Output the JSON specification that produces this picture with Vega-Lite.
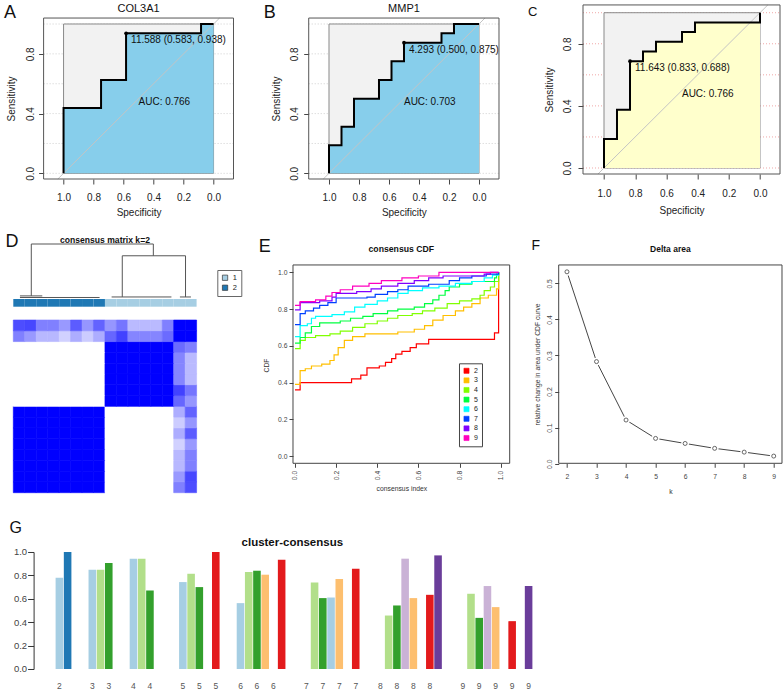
{
  "$schema": "https://vega.github.io/schema/vega-lite/v6.json",
  "background": "white",
  "autosize": {"type": "pad"},
  "padding": {"left": 3.3, "top": 0, "right": 0, "bottom": 0},
  "config": {
    "font": "Liberation Sans",
    "view": {"stroke": null},
    "axis": {"grid": false, "domain": false, "labelFont": "Liberation Sans", "titleFont": "Liberation Sans", "titleFontWeight": "normal", "tickColor": "#444", "labelColor": "#222", "titleColor": "#222", "labelFlush": false, "labelOverlap": false},
    "title": {"font": "Liberation Sans", "fontWeight": "normal", "color": "#111", "offset": 0, "baseline": "alphabetic", "frame": "group"},
    "legend": {"labelFont": "Liberation Sans"}
  },
  "datasets": {
    "one": [{}],
    "ticks": [{"t": 0}, {"t": 0.2}, {"t": 0.4}, {"t": 0.6}, {"t": 0.8}, {"t": 1}],
    "rocA": [{"i": 1, "spec": 0, "sens": 1}, {"i": 2, "spec": 0.0833, "sens": 1}, {"i": 3, "spec": 0.0833, "sens": 0.9375}, {"i": 4, "spec": 0.5833, "sens": 0.9375}, {"i": 5, "spec": 0.5833, "sens": 0.625}, {"i": 6, "spec": 0.75, "sens": 0.625}, {"i": 7, "spec": 0.75, "sens": 0.4375}, {"i": 8, "spec": 1, "sens": 0.4375}, {"i": 9, "spec": 1, "sens": 0}],
    "rocB": [{"i": 1, "spec": 0, "sens": 1}, {"i": 2, "spec": 0.1667, "sens": 1}, {"i": 3, "spec": 0.1667, "sens": 0.9375}, {"i": 4, "spec": 0.25, "sens": 0.9375}, {"i": 5, "spec": 0.25, "sens": 0.875}, {"i": 6, "spec": 0.5, "sens": 0.875}, {"i": 7, "spec": 0.5, "sens": 0.75}, {"i": 8, "spec": 0.5833, "sens": 0.75}, {"i": 9, "spec": 0.5833, "sens": 0.625}, {"i": 10, "spec": 0.6667, "sens": 0.625}, {"i": 11, "spec": 0.6667, "sens": 0.5}, {"i": 12, "spec": 0.8333, "sens": 0.5}, {"i": 13, "spec": 0.8333, "sens": 0.3125}, {"i": 14, "spec": 0.9167, "sens": 0.3125}, {"i": 15, "spec": 0.9167, "sens": 0.1875}, {"i": 16, "spec": 1, "sens": 0.1875}, {"i": 17, "spec": 1, "sens": 0}],
    "rocC": [{"i": 1, "spec": 0, "sens": 1}, {"i": 2, "spec": 0, "sens": 0.9375}, {"i": 3, "spec": 0.4167, "sens": 0.9375}, {"i": 4, "spec": 0.4167, "sens": 0.875}, {"i": 5, "spec": 0.5, "sens": 0.875}, {"i": 6, "spec": 0.5, "sens": 0.8125}, {"i": 7, "spec": 0.6667, "sens": 0.8125}, {"i": 8, "spec": 0.6667, "sens": 0.75}, {"i": 9, "spec": 0.75, "sens": 0.75}, {"i": 10, "spec": 0.75, "sens": 0.6875}, {"i": 11, "spec": 0.8333, "sens": 0.6875}, {"i": 12, "spec": 0.8333, "sens": 0.375}, {"i": 13, "spec": 0.9167, "sens": 0.375}, {"i": 14, "spec": 0.9167, "sens": 0.1875}, {"i": 15, "spec": 1, "sens": 0.1875}, {"i": 16, "spec": 1, "sens": 0}],
    "cutA": [{"thr": 11.588, "spec": 0.583, "sens": 0.938}],
    "cutB": [{"thr": 4.293, "spec": 0.5, "sens": 0.875}],
    "cutC": [{"thr": 11.643, "spec": 0.833, "sens": 0.688}],
    "dendro": [
      {"x": 2.07, "x2": 12.72, "y": 1, "y2": 1},
      {"x": 2.07, "x2": 2.07, "y": 1, "y2": 0.03},
      {"x": 12.72, "x2": 12.72, "y": 1, "y2": 0.78},
      {"x": 10.01, "x2": 15.53, "y": 0.78, "y2": 0.78},
      {"x": 10.01, "x2": 10.01, "y": 0.78, "y2": 0.01},
      {"x": 15.53, "x2": 15.53, "y": 0.78, "y2": 0.01},
      {"x": 1.08, "x2": 3.03, "y": 0.03, "y2": 0.03},
      {"x": 1.08, "x2": 8.03, "y": 0.0, "y2": 0.0},
      {"x": 9.08, "x2": 14.3, "y": 0.01, "y2": 0.01},
      {"x": 15.04, "x2": 16.0, "y": 0.01, "y2": 0.01}
    ],
    "clusters": [
      {"c": 1, "cl": "2"}, {"c": 2, "cl": "2"}, {"c": 3, "cl": "2"}, {"c": 4, "cl": "2"}, {"c": 5, "cl": "2"}, {"c": 6, "cl": "2"}, {"c": 7, "cl": "2"}, {"c": 8, "cl": "2"},
      {"c": 9, "cl": "1"}, {"c": 10, "cl": "1"}, {"c": 11, "cl": "1"}, {"c": 12, "cl": "1"}, {"c": 13, "cl": "1"}, {"c": 14, "cl": "1"}, {"c": 15, "cl": "1"}, {"c": 16, "cl": "1"}
    ],
    "cm": [
      {"r":1,"c":1,"v":1},{"r":1,"c":2,"v":1},{"r":1,"c":3,"v":1},{"r":1,"c":4,"v":1},{"r":1,"c":5,"v":1},{"r":1,"c":6,"v":1},{"r":1,"c":7,"v":1},{"r":1,"c":8,"v":1},{"r":1,"c":9,"v":0},{"r":1,"c":10,"v":0},{"r":1,"c":11,"v":0},{"r":1,"c":12,"v":0},{"r":1,"c":13,"v":0},{"r":1,"c":14,"v":0},{"r":1,"c":15,"v":0.5},{"r":1,"c":16,"v":0.7},
      {"r":2,"c":1,"v":1},{"r":2,"c":2,"v":1},{"r":2,"c":3,"v":1},{"r":2,"c":4,"v":1},{"r":2,"c":5,"v":1},{"r":2,"c":6,"v":1},{"r":2,"c":7,"v":1},{"r":2,"c":8,"v":1},{"r":2,"c":9,"v":0},{"r":2,"c":10,"v":0},{"r":2,"c":11,"v":0},{"r":2,"c":12,"v":0},{"r":2,"c":13,"v":0},{"r":2,"c":14,"v":0},{"r":2,"c":15,"v":0.4},{"r":2,"c":16,"v":0.72},
      {"r":3,"c":1,"v":1},{"r":3,"c":2,"v":1},{"r":3,"c":3,"v":1},{"r":3,"c":4,"v":1},{"r":3,"c":5,"v":1},{"r":3,"c":6,"v":1},{"r":3,"c":7,"v":1},{"r":3,"c":8,"v":1},{"r":3,"c":9,"v":0},{"r":3,"c":10,"v":0},{"r":3,"c":11,"v":0},{"r":3,"c":12,"v":0},{"r":3,"c":13,"v":0},{"r":3,"c":14,"v":0},{"r":3,"c":15,"v":0.28},{"r":3,"c":16,"v":0.5},
      {"r":4,"c":1,"v":1},{"r":4,"c":2,"v":1},{"r":4,"c":3,"v":1},{"r":4,"c":4,"v":1},{"r":4,"c":5,"v":1},{"r":4,"c":6,"v":1},{"r":4,"c":7,"v":1},{"r":4,"c":8,"v":1},{"r":4,"c":9,"v":0},{"r":4,"c":10,"v":0},{"r":4,"c":11,"v":0},{"r":4,"c":12,"v":0},{"r":4,"c":13,"v":0},{"r":4,"c":14,"v":0},{"r":4,"c":15,"v":0.28},{"r":4,"c":16,"v":0.5},
      {"r":5,"c":1,"v":1},{"r":5,"c":2,"v":1},{"r":5,"c":3,"v":1},{"r":5,"c":4,"v":1},{"r":5,"c":5,"v":1},{"r":5,"c":6,"v":1},{"r":5,"c":7,"v":1},{"r":5,"c":8,"v":1},{"r":5,"c":9,"v":0},{"r":5,"c":10,"v":0},{"r":5,"c":11,"v":0},{"r":5,"c":12,"v":0},{"r":5,"c":13,"v":0},{"r":5,"c":14,"v":0},{"r":5,"c":15,"v":0.18},{"r":5,"c":16,"v":0.4},
      {"r":6,"c":1,"v":1},{"r":6,"c":2,"v":1},{"r":6,"c":3,"v":1},{"r":6,"c":4,"v":1},{"r":6,"c":5,"v":1},{"r":6,"c":6,"v":1},{"r":6,"c":7,"v":1},{"r":6,"c":8,"v":1},{"r":6,"c":9,"v":0},{"r":6,"c":10,"v":0},{"r":6,"c":11,"v":0},{"r":6,"c":12,"v":0},{"r":6,"c":13,"v":0},{"r":6,"c":14,"v":0},{"r":6,"c":15,"v":0.32},{"r":6,"c":16,"v":0.64},
      {"r":7,"c":1,"v":1},{"r":7,"c":2,"v":1},{"r":7,"c":3,"v":1},{"r":7,"c":4,"v":1},{"r":7,"c":5,"v":1},{"r":7,"c":6,"v":1},{"r":7,"c":7,"v":1},{"r":7,"c":8,"v":1},{"r":7,"c":9,"v":0},{"r":7,"c":10,"v":0},{"r":7,"c":11,"v":0},{"r":7,"c":12,"v":0},{"r":7,"c":13,"v":0},{"r":7,"c":14,"v":0},{"r":7,"c":15,"v":0.2},{"r":7,"c":16,"v":0.41},
      {"r":8,"c":1,"v":1},{"r":8,"c":2,"v":1},{"r":8,"c":3,"v":1},{"r":8,"c":4,"v":1},{"r":8,"c":5,"v":1},{"r":8,"c":6,"v":1},{"r":8,"c":7,"v":1},{"r":8,"c":8,"v":1},{"r":8,"c":9,"v":0},{"r":8,"c":10,"v":0},{"r":8,"c":11,"v":0},{"r":8,"c":12,"v":0},{"r":8,"c":13,"v":0},{"r":8,"c":14,"v":0},{"r":8,"c":15,"v":0.32},{"r":8,"c":16,"v":0.61},
      {"r":9,"c":1,"v":0},{"r":9,"c":2,"v":0},{"r":9,"c":3,"v":0},{"r":9,"c":4,"v":0},{"r":9,"c":5,"v":0},{"r":9,"c":6,"v":0},{"r":9,"c":7,"v":0},{"r":9,"c":8,"v":0},{"r":9,"c":9,"v":1},{"r":9,"c":10,"v":1},{"r":9,"c":11,"v":1},{"r":9,"c":12,"v":1},{"r":9,"c":13,"v":1},{"r":9,"c":14,"v":1},{"r":9,"c":15,"v":0.6},{"r":9,"c":16,"v":0.41},
      {"r":10,"c":1,"v":0},{"r":10,"c":2,"v":0},{"r":10,"c":3,"v":0},{"r":10,"c":4,"v":0},{"r":10,"c":5,"v":0},{"r":10,"c":6,"v":0},{"r":10,"c":7,"v":0},{"r":10,"c":8,"v":0},{"r":10,"c":9,"v":1},{"r":10,"c":10,"v":1},{"r":10,"c":11,"v":1},{"r":10,"c":12,"v":1},{"r":10,"c":13,"v":1},{"r":10,"c":14,"v":1},{"r":10,"c":15,"v":0.74},{"r":10,"c":16,"v":0.54},
      {"r":11,"c":1,"v":0},{"r":11,"c":2,"v":0},{"r":11,"c":3,"v":0},{"r":11,"c":4,"v":0},{"r":11,"c":5,"v":0},{"r":11,"c":6,"v":0},{"r":11,"c":7,"v":0},{"r":11,"c":8,"v":0},{"r":11,"c":9,"v":1},{"r":11,"c":10,"v":1},{"r":11,"c":11,"v":1},{"r":11,"c":12,"v":1},{"r":11,"c":13,"v":1},{"r":11,"c":14,"v":1},{"r":11,"c":15,"v":0.48},{"r":11,"c":16,"v":0.27},
      {"r":12,"c":1,"v":0},{"r":12,"c":2,"v":0},{"r":12,"c":3,"v":0},{"r":12,"c":4,"v":0},{"r":12,"c":5,"v":0},{"r":12,"c":6,"v":0},{"r":12,"c":7,"v":0},{"r":12,"c":8,"v":0},{"r":12,"c":9,"v":1},{"r":12,"c":10,"v":1},{"r":12,"c":11,"v":1},{"r":12,"c":12,"v":1},{"r":12,"c":13,"v":1},{"r":12,"c":14,"v":1},{"r":12,"c":15,"v":0.48},{"r":12,"c":16,"v":0.27},
      {"r":13,"c":1,"v":0},{"r":13,"c":2,"v":0},{"r":13,"c":3,"v":0},{"r":13,"c":4,"v":0},{"r":13,"c":5,"v":0},{"r":13,"c":6,"v":0},{"r":13,"c":7,"v":0},{"r":13,"c":8,"v":0},{"r":13,"c":9,"v":1},{"r":13,"c":10,"v":1},{"r":13,"c":11,"v":1},{"r":13,"c":12,"v":1},{"r":13,"c":13,"v":1},{"r":13,"c":14,"v":1},{"r":13,"c":15,"v":0.48},{"r":13,"c":16,"v":0.27},
      {"r":14,"c":1,"v":0},{"r":14,"c":2,"v":0},{"r":14,"c":3,"v":0},{"r":14,"c":4,"v":0},{"r":14,"c":5,"v":0},{"r":14,"c":6,"v":0},{"r":14,"c":7,"v":0},{"r":14,"c":8,"v":0},{"r":14,"c":9,"v":1},{"r":14,"c":10,"v":1},{"r":14,"c":11,"v":1},{"r":14,"c":12,"v":1},{"r":14,"c":13,"v":1},{"r":14,"c":14,"v":1},{"r":14,"c":15,"v":0.58},{"r":14,"c":16,"v":0.5},
      {"r":15,"c":1,"v":0.5},{"r":15,"c":2,"v":0.4},{"r":15,"c":3,"v":0.28},{"r":15,"c":4,"v":0.28},{"r":15,"c":5,"v":0.18},{"r":15,"c":6,"v":0.32},{"r":15,"c":7,"v":0.2},{"r":15,"c":8,"v":0.32},{"r":15,"c":9,"v":0.6},{"r":15,"c":10,"v":0.74},{"r":15,"c":11,"v":0.48},{"r":15,"c":12,"v":0.48},{"r":15,"c":13,"v":0.48},{"r":15,"c":14,"v":0.58},{"r":15,"c":15,"v":1},{"r":15,"c":16,"v":1},
      {"r":16,"c":1,"v":0.7},{"r":16,"c":2,"v":0.72},{"r":16,"c":3,"v":0.5},{"r":16,"c":4,"v":0.5},{"r":16,"c":5,"v":0.4},{"r":16,"c":6,"v":0.64},{"r":16,"c":7,"v":0.41},{"r":16,"c":8,"v":0.61},{"r":16,"c":9,"v":0.41},{"r":16,"c":10,"v":0.54},{"r":16,"c":11,"v":0.27},{"r":16,"c":12,"v":0.27},{"r":16,"c":13,"v":0.27},{"r":16,"c":14,"v":0.5},{"r":16,"c":15,"v":1},{"r":16,"c":16,"v":1}
    ],
    "cdf": [
      {"k":"2","x":0,"y":0.36},{"k":"2","x":0.025,"y":0.40},{"k":"2","x":0.275,"y":0.42},{"k":"2","x":0.32,"y":0.44},{"k":"2","x":0.35,"y":0.48},{"k":"2","x":0.41,"y":0.49},{"k":"2","x":0.44,"y":0.51},{"k":"2","x":0.47,"y":0.53},{"k":"2","x":0.49,"y":0.555},{"k":"2","x":0.52,"y":0.57},{"k":"2","x":0.56,"y":0.59},{"k":"2","x":0.59,"y":0.61},{"k":"2","x":0.65,"y":0.635},{"k":"2","x":0.97,"y":0.67},{"k":"2","x":0.99,"y":1},
      {"k":"3","x":0,"y":0.39},{"k":"3","x":0.025,"y":0.465},{"k":"3","x":0.05,"y":0.475},{"k":"3","x":0.08,"y":0.49},{"k":"3","x":0.13,"y":0.5},{"k":"3","x":0.17,"y":0.52},{"k":"3","x":0.19,"y":0.55},{"k":"3","x":0.21,"y":0.59},{"k":"3","x":0.24,"y":0.63},{"k":"3","x":0.28,"y":0.65},{"k":"3","x":0.34,"y":0.665},{"k":"3","x":0.5,"y":0.675},{"k":"3","x":0.58,"y":0.69},{"k":"3","x":0.63,"y":0.71},{"k":"3","x":0.67,"y":0.74},{"k":"3","x":0.72,"y":0.765},{"k":"3","x":0.78,"y":0.79},{"k":"3","x":0.82,"y":0.81},{"k":"3","x":0.86,"y":0.83},{"k":"3","x":0.9,"y":0.86},{"k":"3","x":0.94,"y":0.875},{"k":"3","x":0.98,"y":0.91},{"k":"3","x":0.99,"y":1},
      {"k":"4","x":0,"y":0.585},{"k":"4","x":0.025,"y":0.63},{"k":"4","x":0.05,"y":0.645},{"k":"4","x":0.1,"y":0.655},{"k":"4","x":0.17,"y":0.665},{"k":"4","x":0.22,"y":0.68},{"k":"4","x":0.28,"y":0.7},{"k":"4","x":0.34,"y":0.72},{"k":"4","x":0.4,"y":0.735},{"k":"4","x":0.45,"y":0.75},{"k":"4","x":0.5,"y":0.765},{"k":"4","x":0.57,"y":0.775},{"k":"4","x":0.62,"y":0.79},{"k":"4","x":0.68,"y":0.805},{"k":"4","x":0.74,"y":0.83},{"k":"4","x":0.8,"y":0.845},{"k":"4","x":0.86,"y":0.855},{"k":"4","x":0.9,"y":0.875},{"k":"4","x":0.92,"y":0.9},{"k":"4","x":0.95,"y":0.92},{"k":"4","x":0.97,"y":0.95},{"k":"4","x":0.99,"y":1},
      {"k":"5","x":0,"y":0.615},{"k":"5","x":0.025,"y":0.645},{"k":"5","x":0.05,"y":0.67},{"k":"5","x":0.08,"y":0.705},{"k":"5","x":0.12,"y":0.725},{"k":"5","x":0.22,"y":0.735},{"k":"5","x":0.27,"y":0.75},{"k":"5","x":0.33,"y":0.76},{"k":"5","x":0.38,"y":0.775},{"k":"5","x":0.45,"y":0.79},{"k":"5","x":0.5,"y":0.8},{"k":"5","x":0.58,"y":0.81},{"k":"5","x":0.63,"y":0.83},{"k":"5","x":0.67,"y":0.85},{"k":"5","x":0.7,"y":0.875},{"k":"5","x":0.73,"y":0.9},{"k":"5","x":0.75,"y":0.92},{"k":"5","x":0.8,"y":0.935},{"k":"5","x":0.86,"y":0.95},{"k":"5","x":0.97,"y":0.97},{"k":"5","x":0.98,"y":0.99},{"k":"5","x":0.99,"y":1},
      {"k":"6","x":0,"y":0.65},{"k":"6","x":0.025,"y":0.71},{"k":"6","x":0.06,"y":0.72},{"k":"6","x":0.08,"y":0.75},{"k":"6","x":0.1,"y":0.76},{"k":"6","x":0.18,"y":0.77},{"k":"6","x":0.24,"y":0.785},{"k":"6","x":0.29,"y":0.81},{"k":"6","x":0.34,"y":0.825},{"k":"6","x":0.4,"y":0.845},{"k":"6","x":0.45,"y":0.86},{"k":"6","x":0.5,"y":0.885},{"k":"6","x":0.55,"y":0.9},{"k":"6","x":0.62,"y":0.915},{"k":"6","x":0.7,"y":0.925},{"k":"6","x":0.78,"y":0.94},{"k":"6","x":0.86,"y":0.95},{"k":"6","x":0.92,"y":0.97},{"k":"6","x":0.96,"y":0.985},{"k":"6","x":0.99,"y":1},
      {"k":"7","x":0,"y":0.715},{"k":"7","x":0.025,"y":0.775},{"k":"7","x":0.05,"y":0.79},{"k":"7","x":0.09,"y":0.805},{"k":"7","x":0.12,"y":0.82},{"k":"7","x":0.16,"y":0.835},{"k":"7","x":0.2,"y":0.86},{"k":"7","x":0.35,"y":0.865},{"k":"7","x":0.39,"y":0.88},{"k":"7","x":0.45,"y":0.895},{"k":"7","x":0.5,"y":0.905},{"k":"7","x":0.55,"y":0.925},{"k":"7","x":0.65,"y":0.935},{"k":"7","x":0.75,"y":0.955},{"k":"7","x":0.8,"y":0.97},{"k":"7","x":0.86,"y":0.98},{"k":"7","x":0.93,"y":0.99},{"k":"7","x":0.99,"y":1},
      {"k":"8","x":0,"y":0.795},{"k":"8","x":0.025,"y":0.835},{"k":"8","x":0.12,"y":0.845},{"k":"8","x":0.18,"y":0.865},{"k":"8","x":0.2,"y":0.885},{"k":"8","x":0.3,"y":0.895},{"k":"8","x":0.37,"y":0.91},{"k":"8","x":0.42,"y":0.925},{"k":"8","x":0.5,"y":0.94},{"k":"8","x":0.58,"y":0.955},{"k":"8","x":0.65,"y":0.97},{"k":"8","x":0.72,"y":0.98},{"k":"8","x":0.92,"y":0.99},{"k":"8","x":0.95,"y":1},{"k":"8","x":0.99,"y":1},
      {"k":"9","x":0,"y":0.82},{"k":"9","x":0.025,"y":0.84},{"k":"9","x":0.1,"y":0.85},{"k":"9","x":0.15,"y":0.87},{"k":"9","x":0.18,"y":0.89},{"k":"9","x":0.22,"y":0.905},{"k":"9","x":0.28,"y":0.925},{"k":"9","x":0.36,"y":0.94},{"k":"9","x":0.42,"y":0.955},{"k":"9","x":0.52,"y":0.97},{"k":"9","x":0.6,"y":0.98},{"k":"9","x":0.7,"y":1},{"k":"9","x":0.99,"y":1}
    ],
    "delta": [{"k": 2, "d": 0.532}, {"k": 3, "d": 0.283}, {"k": 4, "d": 0.121}, {"k": 5, "d": 0.070}, {"k": 6, "d": 0.056}, {"k": 7, "d": 0.0425}, {"k": 8, "d": 0.032}, {"k": 9, "d": 0.021}],
    "cc": [
      {"id": "2-1", "t": "t1", "v": 0.78}, {"id": "2-2", "t": "t2", "v": 1.0},
      {"id": "3-1", "t": "t1", "v": 0.849}, {"id": "3-2", "t": "t3", "v": 0.849}, {"id": "3-3", "t": "t4", "v": 0.906},
      {"id": "4-1", "t": "t1", "v": 0.943}, {"id": "4-2", "t": "t3", "v": 0.943}, {"id": "4-3", "t": "t4", "v": 0.671},
      {"id": "5-1", "t": "t1", "v": 0.743}, {"id": "5-2", "t": "t3", "v": 0.814}, {"id": "5-3", "t": "t4", "v": 0.70}, {"id": "5-5", "t": "t6", "v": 1.0},
      {"id": "6-1", "t": "t1", "v": 0.563}, {"id": "6-2", "t": "t3", "v": 0.829}, {"id": "6-3", "t": "t4", "v": 0.84}, {"id": "6-4", "t": "t7", "v": 0.806}, {"id": "6-6", "t": "t6", "v": 0.934},
      {"id": "7-2", "t": "t3", "v": 0.74}, {"id": "7-3", "t": "t4", "v": 0.606}, {"id": "7-4", "t": "t1", "v": 0.611}, {"id": "7-5", "t": "t7", "v": 0.769}, {"id": "7-7", "t": "t6", "v": 0.857},
      {"id": "8-2", "t": "t3", "v": 0.457}, {"id": "8-3", "t": "t4", "v": 0.543}, {"id": "8-4", "t": "t9", "v": 0.943}, {"id": "8-5", "t": "t7", "v": 0.606}, {"id": "8-7", "t": "t6", "v": 0.634}, {"id": "8-8", "t": "t10", "v": 0.971},
      {"id": "9-2", "t": "t3", "v": 0.643}, {"id": "9-3", "t": "t4", "v": 0.437}, {"id": "9-4", "t": "t9", "v": 0.709}, {"id": "9-5", "t": "t7", "v": 0.529}, {"id": "9-7", "t": "t6", "v": 0.409}, {"id": "9-9", "t": "t10", "v": 0.709}
    ]
  },
  "bounds": "full",
  "spacing": 24,
  "resolve": {"scale": {"color": "independent", "fill": "independent", "stroke": "independent"}},
  "vconcat": [
    {
      "columns": 3,
      "bounds": "flush",
      "align": "each",
      "spacing": {"row": 60, "column": 48.7},
      "resolve": {"scale": {"color": "independent", "fill": "independent", "stroke": "independent"}},
      "concat": [
        {
          "width": 230.9, "height": 179,
          "layer": [
            {"data": {"name": "ticks"}, "mark": {"type": "rule", "color": "#cfcfcf", "strokeDash": [1, 2]},
             "encoding": {
               "y": {"field": "t", "type": "quantitative", "scale": {"domain": [-0.038, 1.1608], "nice": false, "zero": false},
                     "axis": {"title": "Sensitivity", "titleY": 98.5, "values": [0, 0.2, 0.4, 0.6, 0.8, 1], "format": ".1f", "offset": -30.3, "tickSize": 5, "labelAngle": -90, "labelAlign": "center", "labelBaseline": "bottom", "labelPadding": 3, "labelFontSize": 10, "titleFontSize": 10, "titlePadding": 9, "labelOverlap": false}},
               "x": {"datum": 1.133, "type": "quantitative", "scale": {"domain": [1.335, -0.2043], "nice": false, "zero": false},
                     "axis": {"title": "Specificity", "titleX": 125.3, "values": [0, 0.2, 0.4, 0.6, 0.8, 1], "format": ".1f", "tickSize": 5, "labelPadding": 8, "labelFontSize": 10, "titleFontSize": 10, "titlePadding": 5, "labelOverlap": false}},
               "x2": {"datum": -0.133}}},
            {"data": {"name": "one"}, "mark": {"type": "rect", "fill": "#f2f2f2", "stroke": "#8a8a8a", "strokeWidth": 1},
             "encoding": {"x": {"datum": 1, "type": "quantitative", "scale": {"domain": [1.335, -0.2043], "nice": false, "zero": false}}, "x2": {"datum": 0},
                          "y": {"datum": 0, "type": "quantitative", "scale": {"domain": [-0.038, 1.1608], "nice": false, "zero": false}}, "y2": {"datum": 1}}},
            {"data": {"name": "rocA"}, "transform": [{"aggregate": [{"op": "min", "field": "sens", "as": "lo"}], "groupby": ["spec"]}],
             "mark": {"type": "area", "color": "#87CEEB", "opacity": 1, "interpolate": "step-before"},
             "encoding": {"x": {"field": "spec", "type": "quantitative", "scale": {"domain": [1.335, -0.2043], "nice": false, "zero": false}},
                          "y": {"field": "lo", "type": "quantitative", "scale": {"domain": [-0.038, 1.1608], "nice": false, "zero": false}}, "y2": {"datum": 0}}},
            {"data": {"name": "one"}, "mark": {"type": "rule", "color": "#c4c4c4", "strokeWidth": 1},
             "encoding": {"x": {"datum": 1.038, "type": "quantitative", "scale": {"domain": [1.335, -0.2043], "nice": false, "zero": false}}, "x2": {"datum": -0.04},
                          "y": {"datum": -0.038, "type": "quantitative", "scale": {"domain": [-0.038, 1.1608], "nice": false, "zero": false}}, "y2": {"datum": 1.04}}},
            {"data": {"name": "rocA"}, "mark": {"type": "line", "color": "#000000", "strokeWidth": 2},
             "encoding": {"x": {"field": "spec", "type": "quantitative", "scale": {"domain": [1.335, -0.2043], "nice": false, "zero": false}},
                          "y": {"field": "sens", "type": "quantitative", "scale": {"domain": [-0.038, 1.1608], "nice": false, "zero": false}},
                          "order": {"field": "i", "type": "quantitative"}}},
            {"data": {"name": "cutA"}, "mark": {"type": "point", "filled": true, "color": "#000000", "size": 14, "opacity": 1},
             "encoding": {"x": {"field": "spec", "type": "quantitative", "scale": {"domain": [1.335, -0.2043], "nice": false, "zero": false}},
                          "y": {"field": "sens", "type": "quantitative", "scale": {"domain": [-0.038, 1.1608], "nice": false, "zero": false}}}},
            {"data": {"name": "cutA"}, "transform": [{"calculate": "format(datum.thr, '.3f') + ' (' + format(datum.spec, '.3f') + ', ' + format(datum.sens, '.3f') + ')'", "as": "lab"}],
             "mark": {"type": "text", "align": "left", "baseline": "middle", "dx": 5, "dy": 7, "fontSize": 10, "color": "#111111"},
             "encoding": {"x": {"field": "spec", "type": "quantitative", "scale": {"domain": [1.335, -0.2043], "nice": false, "zero": false}},
                          "y": {"field": "sens", "type": "quantitative", "scale": {"domain": [-0.038, 1.1608], "nice": false, "zero": false}}, "text": {"field": "lab"}}},
            {"data": {"name": "one"}, "mark": {"type": "text", "align": "left", "baseline": "middle", "fontSize": 10, "color": "#111111"},
             "encoding": {"x": {"datum": 0.5, "type": "quantitative", "scale": {"domain": [1.335, -0.2043], "nice": false, "zero": false}},
                          "y": {"datum": 0.475, "type": "quantitative", "scale": {"domain": [-0.038, 1.1608], "nice": false, "zero": false}}, "text": {"value": "AUC: 0.766"}}},
            {"data": {"name": "one"}, "mark": {"type": "text", "align": "center", "baseline": "middle", "fontSize": 11, "color": "#111111"},
             "encoding": {"x": {"datum": 0.5, "type": "quantitative", "scale": {"domain": [1.335, -0.2043], "nice": false, "zero": false}},
                          "y": {"datum": 1.099, "type": "quantitative", "scale": {"domain": [-0.038, 1.1608], "nice": false, "zero": false}}, "text": {"value": "COL3A1"}}},
            {"data": {"name": "one"}, "mark": {"type": "text", "align": "left", "baseline": "alphabetic", "fontSize": 18, "color": "#111111"},
             "encoding": {"x": {"datum": 1.3977, "type": "quantitative", "scale": {"domain": [1.335, -0.2043], "nice": false, "zero": false}},
                          "y": {"datum": 1.0402, "type": "quantitative", "scale": {"domain": [-0.038, 1.1608], "nice": false, "zero": false}}, "text": {"value": "A"}}},
            {"data": {"name": "one"}, "mark": {"type": "rect", "filled": false, "stroke": "#555555", "strokeWidth": 1},
             "encoding": {"x": {"datum": 1.133, "type": "quantitative", "scale": {"domain": [1.335, -0.2043], "nice": false, "zero": false}}, "x2": {"datum": -0.133},
                          "y": {"datum": -0.038, "type": "quantitative", "scale": {"domain": [-0.038, 1.1608], "nice": false, "zero": false}}, "y2": {"datum": 1.04}}}
          ]
        },
        {
          "width": 216.7, "height": 179,
          "layer": [
            {"data": {"name": "ticks"}, "mark": {"type": "rule", "color": "#cfcfcf", "strokeDash": [1, 2]},
             "encoding": {
               "y": {"field": "t", "type": "quantitative", "scale": {"domain": [-0.038, 1.1608], "nice": false, "zero": false},
                     "axis": {"title": "Sensitivity", "titleY": 98.5, "values": [0, 0.2, 0.4, 0.6, 0.8, 1], "format": ".1f", "offset": -15.7, "tickSize": 5, "labelAngle": -90, "labelAlign": "center", "labelBaseline": "bottom", "labelPadding": 4, "labelFontSize": 10, "titleFontSize": 10, "titlePadding": 8, "labelOverlap": false}},
               "x": {"datum": 1.1353, "type": "quantitative", "scale": {"domain": [1.24, -0.2047], "nice": false, "zero": false},
                     "axis": {"title": "Specificity", "titleX": 110.85, "values": [0, 0.2, 0.4, 0.6, 0.8, 1], "format": ".1f", "tickSize": 5, "labelPadding": 8, "labelFontSize": 10, "titleFontSize": 10, "titlePadding": 5, "labelOverlap": false}},
               "x2": {"datum": -0.1333}}},
            {"data": {"name": "one"}, "mark": {"type": "rect", "fill": "#f2f2f2", "stroke": "#8a8a8a", "strokeWidth": 1},
             "encoding": {"x": {"datum": 1, "type": "quantitative", "scale": {"domain": [1.24, -0.2047], "nice": false, "zero": false}}, "x2": {"datum": 0},
                          "y": {"datum": 0, "type": "quantitative", "scale": {"domain": [-0.038, 1.1608], "nice": false, "zero": false}}, "y2": {"datum": 1}}},
            {"data": {"name": "rocB"}, "transform": [{"aggregate": [{"op": "min", "field": "sens", "as": "lo"}], "groupby": ["spec"]}],
             "mark": {"type": "area", "color": "#87CEEB", "opacity": 1, "interpolate": "step-before"},
             "encoding": {"x": {"field": "spec", "type": "quantitative", "scale": {"domain": [1.24, -0.2047], "nice": false, "zero": false}},
                          "y": {"field": "lo", "type": "quantitative", "scale": {"domain": [-0.038, 1.1608], "nice": false, "zero": false}}, "y2": {"datum": 0}}},
            {"data": {"name": "one"}, "mark": {"type": "rule", "color": "#c4c4c4", "strokeWidth": 1},
             "encoding": {"x": {"datum": 1.038, "type": "quantitative", "scale": {"domain": [1.24, -0.2047], "nice": false, "zero": false}}, "x2": {"datum": -0.04},
                          "y": {"datum": -0.038, "type": "quantitative", "scale": {"domain": [-0.038, 1.1608], "nice": false, "zero": false}}, "y2": {"datum": 1.04}}},
            {"data": {"name": "rocB"}, "mark": {"type": "line", "color": "#000000", "strokeWidth": 2},
             "encoding": {"x": {"field": "spec", "type": "quantitative", "scale": {"domain": [1.24, -0.2047], "nice": false, "zero": false}},
                          "y": {"field": "sens", "type": "quantitative", "scale": {"domain": [-0.038, 1.1608], "nice": false, "zero": false}},
                          "order": {"field": "i", "type": "quantitative"}}},
            {"data": {"name": "cutB"}, "mark": {"type": "point", "filled": true, "color": "#000000", "size": 14, "opacity": 1},
             "encoding": {"x": {"field": "spec", "type": "quantitative", "scale": {"domain": [1.24, -0.2047], "nice": false, "zero": false}},
                          "y": {"field": "sens", "type": "quantitative", "scale": {"domain": [-0.038, 1.1608], "nice": false, "zero": false}}}},
            {"data": {"name": "cutB"}, "transform": [{"calculate": "format(datum.thr, '.3f') + ' (' + format(datum.spec, '.3f') + ', ' + format(datum.sens, '.3f') + ')'", "as": "lab"}],
             "mark": {"type": "text", "align": "left", "baseline": "middle", "dx": 5, "dy": 7, "fontSize": 10, "color": "#111111"},
             "encoding": {"x": {"field": "spec", "type": "quantitative", "scale": {"domain": [1.24, -0.2047], "nice": false, "zero": false}},
                          "y": {"field": "sens", "type": "quantitative", "scale": {"domain": [-0.038, 1.1608], "nice": false, "zero": false}}, "text": {"field": "lab"}}},
            {"data": {"name": "one"}, "mark": {"type": "text", "align": "left", "baseline": "middle", "fontSize": 10, "color": "#111111"},
             "encoding": {"x": {"datum": 0.5, "type": "quantitative", "scale": {"domain": [1.24, -0.2047], "nice": false, "zero": false}},
                          "y": {"datum": 0.475, "type": "quantitative", "scale": {"domain": [-0.038, 1.1608], "nice": false, "zero": false}}, "text": {"value": "AUC: 0.703"}}},
            {"data": {"name": "one"}, "mark": {"type": "text", "align": "center", "baseline": "middle", "fontSize": 11, "color": "#111111"},
             "encoding": {"x": {"datum": 0.5, "type": "quantitative", "scale": {"domain": [1.24, -0.2047], "nice": false, "zero": false}},
                          "y": {"datum": 1.099, "type": "quantitative", "scale": {"domain": [-0.038, 1.1608], "nice": false, "zero": false}}, "text": {"value": "MMP1"}}},
            {"data": {"name": "one"}, "mark": {"type": "text", "align": "left", "baseline": "alphabetic", "fontSize": 18, "color": "#111111"},
             "encoding": {"x": {"datum": 1.4353, "type": "quantitative", "scale": {"domain": [1.24, -0.2047], "nice": false, "zero": false}},
                          "y": {"datum": 1.0402, "type": "quantitative", "scale": {"domain": [-0.038, 1.1608], "nice": false, "zero": false}}, "text": {"value": "B"}}},
            {"data": {"name": "one"}, "mark": {"type": "rect", "filled": false, "stroke": "#555555", "strokeWidth": 1},
             "encoding": {"x": {"datum": 1.1353, "type": "quantitative", "scale": {"domain": [1.24, -0.2047], "nice": false, "zero": false}}, "x2": {"datum": -0.1333},
                          "y": {"datum": -0.038, "type": "quantitative", "scale": {"domain": [-0.038, 1.1608], "nice": false, "zero": false}}, "y2": {"datum": 1.04}}}
          ]
        },
        {
          "width": 223.3, "height": 174,
          "layer": [
            {"data": {"name": "ticks"}, "mark": {"type": "rule", "color": "#f0a8a8", "strokeDash": [1, 2]},
             "encoding": {
               "y": {"field": "t", "type": "quantitative", "scale": {"domain": [-0.0386, 1.0818], "nice": false, "zero": false},
                     "axis": {"title": "Sensitivity", "titleY": 89.5, "values": [0, 0.2, 0.4, 0.6, 0.8, 1], "format": ".1f", "offset": -24.3, "tickSize": 5, "labelAngle": -90, "labelAlign": "center", "labelBaseline": "bottom", "labelPadding": 5, "labelFontSize": 10, "titleFontSize": 10, "titlePadding": 8, "labelOverlap": false}},
               "x": {"datum": 1.1346, "type": "quantitative", "scale": {"domain": [1.2904, -0.141], "nice": false, "zero": false},
                     "axis": {"title": "Specificity", "titleX": 122.8, "values": [0, 0.2, 0.4, 0.6, 0.8, 1], "format": ".1f", "tickSize": 5, "labelPadding": 9, "labelFontSize": 10, "titleFontSize": 10, "titlePadding": 7, "labelOverlap": false}},
               "x2": {"datum": -0.1282}}},
            {"data": {"name": "one"}, "mark": {"type": "rect", "fill": "#f2f2f2", "stroke": "#8a8a8a", "strokeWidth": 1},
             "encoding": {"x": {"datum": 1, "type": "quantitative", "scale": {"domain": [1.2904, -0.141], "nice": false, "zero": false}}, "x2": {"datum": 0},
                          "y": {"datum": 0, "type": "quantitative", "scale": {"domain": [-0.0386, 1.0818], "nice": false, "zero": false}}, "y2": {"datum": 1}}},
            {"data": {"name": "rocC"}, "transform": [{"aggregate": [{"op": "min", "field": "sens", "as": "lo"}], "groupby": ["spec"]}],
             "mark": {"type": "area", "color": "#FFFFCC", "opacity": 1, "interpolate": "step-before"},
             "encoding": {"x": {"field": "spec", "type": "quantitative", "scale": {"domain": [1.2904, -0.141], "nice": false, "zero": false}},
                          "y": {"field": "lo", "type": "quantitative", "scale": {"domain": [-0.0386, 1.0818], "nice": false, "zero": false}}, "y2": {"datum": 0}}},
            {"data": {"name": "one"}, "mark": {"type": "rule", "color": "#c4c4c4", "strokeWidth": 1},
             "encoding": {"x": {"datum": 1.0386, "type": "quantitative", "scale": {"domain": [1.2904, -0.141], "nice": false, "zero": false}}, "x2": {"datum": -0.05},
                          "y": {"datum": -0.0386, "type": "quantitative", "scale": {"domain": [-0.0386, 1.0818], "nice": false, "zero": false}}, "y2": {"datum": 1.05}}},
            {"data": {"name": "rocC"}, "mark": {"type": "line", "color": "#000000", "strokeWidth": 2},
             "encoding": {"x": {"field": "spec", "type": "quantitative", "scale": {"domain": [1.2904, -0.141], "nice": false, "zero": false}},
                          "y": {"field": "sens", "type": "quantitative", "scale": {"domain": [-0.0386, 1.0818], "nice": false, "zero": false}},
                          "order": {"field": "i", "type": "quantitative"}}},
            {"data": {"name": "cutC"}, "mark": {"type": "point", "filled": true, "color": "#000000", "size": 14, "opacity": 1},
             "encoding": {"x": {"field": "spec", "type": "quantitative", "scale": {"domain": [1.2904, -0.141], "nice": false, "zero": false}},
                          "y": {"field": "sens", "type": "quantitative", "scale": {"domain": [-0.0386, 1.0818], "nice": false, "zero": false}}}},
            {"data": {"name": "cutC"}, "transform": [{"calculate": "format(datum.thr, '.3f') + ' (' + format(datum.spec, '.3f') + ', ' + format(datum.sens, '.3f') + ')'", "as": "lab"}],
             "mark": {"type": "text", "align": "left", "baseline": "middle", "dx": 5, "dy": 7, "fontSize": 10, "color": "#111111"},
             "encoding": {"x": {"field": "spec", "type": "quantitative", "scale": {"domain": [1.2904, -0.141], "nice": false, "zero": false}},
                          "y": {"field": "sens", "type": "quantitative", "scale": {"domain": [-0.0386, 1.0818], "nice": false, "zero": false}}, "text": {"field": "lab"}}},
            {"data": {"name": "one"}, "mark": {"type": "text", "align": "left", "baseline": "middle", "fontSize": 10, "color": "#111111"},
             "encoding": {"x": {"datum": 0.5, "type": "quantitative", "scale": {"domain": [1.2904, -0.141], "nice": false, "zero": false}},
                          "y": {"datum": 0.475, "type": "quantitative", "scale": {"domain": [-0.0386, 1.0818], "nice": false, "zero": false}}, "text": {"value": "AUC: 0.766"}}},
            {"data": {"name": "one"}, "mark": {"type": "text", "align": "left", "baseline": "alphabetic", "fontSize": 13, "color": "#111111"},
             "encoding": {"x": {"datum": 1.487, "type": "quantitative", "scale": {"domain": [1.2904, -0.141], "nice": false, "zero": false}},
                          "y": {"datum": 0.9788, "type": "quantitative", "scale": {"domain": [-0.0386, 1.0818], "nice": false, "zero": false}}, "text": {"value": "C"}}},
            {"data": {"name": "one"}, "mark": {"type": "rect", "filled": false, "stroke": "#555555", "strokeWidth": 1},
             "encoding": {"x": {"datum": 1.1346, "type": "quantitative", "scale": {"domain": [1.2904, -0.141], "nice": false, "zero": false}}, "x2": {"datum": -0.1282},
                          "y": {"datum": -0.0386, "type": "quantitative", "scale": {"domain": [-0.0386, 1.0818], "nice": false, "zero": false}}, "y2": {"datum": 1.05}}}
          ]
        },
        {
          "width": 230.9, "height": 253.7,
          "resolve": {"scale": {"x": "independent", "y": "independent"}},
          "layer": [
            {"data": {"name": "dendro"}, "mark": {"type": "rule", "color": "#555555", "strokeWidth": 1},
             "encoding": {"x": {"field": "x", "type": "quantitative", "scale": {"domain": [0.5, 20.65], "nice": false, "zero": false}, "axis": null},
                          "x2": {"field": "x2"},
                          "y": {"field": "y", "type": "quantitative", "scale": {"domain": [-3.649, 1.0935], "nice": false, "zero": false}, "axis": null},
                          "y2": {"field": "y2"}}},
            {"data": {"name": "one"}, "mark": {"type": "text", "align": "center", "baseline": "middle", "fontSize": 8.6, "fontWeight": "bold", "color": "#111111"},
             "encoding": {"x": {"datum": 8.5, "type": "quantitative", "scale": {"domain": [0.5, 20.65], "nice": false, "zero": false}, "axis": null},
                          "y": {"datum": 1.075, "type": "quantitative", "scale": {"domain": [-3.649, 1.0935], "nice": false, "zero": false}, "axis": null},
                          "text": {"value": "consensus matrix k=2"}}},
            {"data": {"name": "one"}, "mark": {"type": "text", "align": "left", "baseline": "alphabetic", "fontSize": 18, "color": "#111111"},
             "encoding": {"x": {"datum": -0.172, "type": "quantitative", "scale": {"domain": [0.5, 20.65], "nice": false, "zero": false}, "axis": null},
                          "y": {"datum": 0.944, "type": "quantitative", "scale": {"domain": [-3.649, 1.0935], "nice": false, "zero": false}, "axis": null},
                          "text": {"value": "D"}}},
            {"data": {"name": "clusters"}, "mark": {"type": "rect"},
             "encoding": {"x": {"field": "c", "type": "ordinal", "scale": {"type": "band", "paddingInner": 0, "paddingOuter": 0, "range": [0, 183.3]}, "axis": null},
                          "y": {"datum": -0.028, "type": "quantitative", "scale": {"domain": [-3.649, 1.0935], "nice": false, "zero": false}, "axis": null},
                          "y2": {"datum": -0.172},
                          "fill": {"field": "cl", "type": "nominal", "scale": {"domain": ["1", "2"], "range": ["#A6CEE3", "#1F78B4"]},
                                   "legend": {"orient": "none", "legendX": 204, "legendY": 31, "title": null, "symbolType": "square", "symbolSize": 28, "symbolStrokeColor": "#333333", "symbolStrokeWidth": 0.7, "labelFontSize": 7.5, "labelColor": "#222222", "strokeColor": "#666666", "padding": 4, "rowPadding": 1, "labelOffset": 4}}}},
            {"data": {"name": "cm"}, "mark": {"type": "rect", "strokeWidth": 0.6},
             "encoding": {"x": {"field": "c", "type": "ordinal", "scale": {"type": "band", "paddingInner": 0, "paddingOuter": 0, "range": [0, 183.3]}, "axis": null},
                          "y": {"field": "r", "type": "ordinal", "sort": "descending", "scale": {"type": "band", "paddingInner": 0, "paddingOuter": 0, "range": [81, 253.7]}, "axis": null},
                          "color": {"field": "v", "type": "quantitative", "scale": {"domain": [0, 1], "range": ["#ffffff", "#0000ff"], "interpolate": "rgb"}, "legend": null},
                          "stroke": {"field": "v", "type": "quantitative", "scale": {"domain": [0, 1], "range": ["#ffffff", "#0000ff"], "interpolate": "rgb"}, "legend": null}}}
          ]
        },
        {
          "width": 216.7, "height": 224.3,
          "layer": [
            {"data": {"name": "cdf"}, "mark": {"type": "line", "interpolate": "step-after", "strokeWidth": 1.2},
             "encoding": {"x": {"field": "x", "type": "quantitative", "scale": {"domain": [-0.0097, 1.044], "nice": false, "zero": false},
                                "axis": {"title": "consensus index", "values": [0, 0.2, 0.4, 0.6, 0.8, 1], "format": ".1f", "labelAngle": -90, "labelAlign": "right", "labelBaseline": "middle", "tickSize": 4, "labelPadding": 3, "labelFontSize": 6.8, "titleFontSize": 6.8, "titlePadding": 6, "labelColor": "#444444", "titleColor": "#333333", "labelOverlap": false}},
                          "y": {"field": "y", "type": "quantitative", "scale": {"domain": [-0.0397, 1.1813], "nice": false, "zero": false},
                                "axis": {"title": "CDF", "titleY": 126, "values": [0, 0.2, 0.4, 0.6, 0.8, 1], "format": ".1f", "labelAngle": 0, "tickSize": 4, "labelPadding": 2, "labelFontSize": 6.8, "titleFontSize": 6.8, "titlePadding": 8, "labelColor": "#444444", "titleColor": "#333333", "labelOverlap": false}},
                          "stroke": {"field": "k", "type": "nominal", "scale": {"domain": ["2", "3", "4", "5", "6", "7", "8", "9"], "range": ["#FF0000", "#FFBF00", "#80FF00", "#00FF40", "#00FFFF", "#0040FF", "#8000FF", "#FF00BF"]},
                                     "legend": {"orient": "none", "legendX": 166, "legendY": 124.3, "title": null, "symbolType": "square", "symbolSize": 26, "symbolOpacity": 1, "symbolStrokeColor": "#222222", "symbolStrokeWidth": 0.6, "labelFontSize": 7, "labelColor": "#222222", "strokeColor": "#444444", "padding": 4, "rowPadding": 0.6, "labelOffset": 4}}}},
            {"data": {"name": "cdf"}, "mark": {"type": "square", "filled": true, "opacity": 0, "size": 4},
             "encoding": {"x": {"field": "x", "type": "quantitative", "scale": {"domain": [-0.0097, 1.044], "nice": false, "zero": false}},
                          "y": {"field": "y", "type": "quantitative", "scale": {"domain": [-0.0397, 1.1813], "nice": false, "zero": false}},
                          "fill": {"field": "k", "type": "nominal", "scale": {"domain": ["2", "3", "4", "5", "6", "7", "8", "9"], "range": ["#FF0000", "#FFBF00", "#80FF00", "#00FF40", "#00FFFF", "#0040FF", "#8000FF", "#FF00BF"]},
                                   "legend": {"orient": "none", "legendX": 166, "legendY": 124.3, "title": null, "symbolType": "square", "symbolSize": 26, "symbolOpacity": 1, "symbolStrokeColor": "#222222", "symbolStrokeWidth": 0.6, "labelFontSize": 7, "labelColor": "#222222", "strokeColor": "#444444", "padding": 4, "rowPadding": 0.6, "labelOffset": 4}}}},
            {"data": {"name": "one"}, "mark": {"type": "text", "align": "center", "baseline": "middle", "fontSize": 8.7, "fontWeight": "bold", "color": "#111111"},
             "encoding": {"x": {"datum": 0.517, "type": "quantitative", "scale": {"domain": [-0.0097, 1.044], "nice": false, "zero": false}},
                          "y": {"datum": 1.125, "type": "quantitative", "scale": {"domain": [-0.0397, 1.1813], "nice": false, "zero": false}}, "text": {"value": "consensus CDF"}}},
            {"data": {"name": "one"}, "mark": {"type": "text", "align": "left", "baseline": "alphabetic", "fontSize": 18, "color": "#111111"},
             "encoding": {"x": {"datum": -0.1765, "type": "quantitative", "scale": {"domain": [-0.0097, 1.044], "nice": false, "zero": false}},
                          "y": {"datum": 1.1105, "type": "quantitative", "scale": {"domain": [-0.0397, 1.1813], "nice": false, "zero": false}}, "text": {"value": "E"}}},
            {"data": {"name": "one"}, "mark": {"type": "rect", "filled": false, "stroke": "#444444", "strokeWidth": 1},
             "encoding": {"x": {"datum": -0.0097, "type": "quantitative", "scale": {"domain": [-0.0097, 1.044], "nice": false, "zero": false}},
                          "x2": {"datum": 1.044},
                          "y": {"datum": -0.0397, "type": "quantitative", "scale": {"domain": [-0.0397, 1.1813], "nice": false, "zero": false}},
                          "y2": {"datum": 1.04}}}
          ]
        },
        {
          "width": 223.3, "height": 224.3,
          "layer": [
            {"data": {"name": "delta"}, "mark": {"type": "line", "color": "#444444", "strokeWidth": 1},
             "encoding": {"x": {"field": "k", "type": "quantitative", "scale": {"domain": [1.72, 9.28], "nice": false, "zero": false},
                                "axis": {"title": "k", "values": [2, 3, 4, 5, 6, 7, 8, 9], "tickCount": 8, "tickMinStep": 1, "format": "d", "tickSize": 4, "labelPadding": 6, "labelFontSize": 6.8, "titleFontSize": 6.8, "titlePadding": 8, "labelColor": "#444444", "titleColor": "#333333", "labelOverlap": false, "labelSeparation": 0}},
                          "y": {"field": "d", "type": "quantitative", "scale": {"domain": [0.001, 0.623], "nice": false, "zero": false},
                                "axis": {"title": "relative change in area under CDF curve", "titleY": 125, "values": [0, 0.1, 0.2, 0.3, 0.4, 0.5], "format": ".1f", "labelAngle": -90, "labelAlign": "center", "labelBaseline": "bottom", "tickSize": 4, "labelPadding": 2, "labelFontSize": 6.8, "titleFontSize": 6.8, "titlePadding": 6, "labelColor": "#444444", "titleColor": "#333333", "labelOverlap": false}}}},
            {"data": {"name": "delta"}, "mark": {"type": "point", "filled": true, "color": "#ffffff", "size": 60, "opacity": 1},
             "encoding": {"x": {"field": "k", "type": "quantitative", "scale": {"domain": [1.72, 9.28], "nice": false, "zero": false}},
                          "y": {"field": "d", "type": "quantitative", "scale": {"domain": [0.001, 0.623], "nice": false, "zero": false}}}},
            {"data": {"name": "delta"}, "mark": {"type": "point", "filled": false, "color": "#444444", "size": 16, "strokeWidth": 0.8, "opacity": 1},
             "encoding": {"x": {"field": "k", "type": "quantitative", "scale": {"domain": [1.72, 9.28], "nice": false, "zero": false}},
                          "y": {"field": "d", "type": "quantitative", "scale": {"domain": [0.001, 0.623], "nice": false, "zero": false}}}},
            {"data": {"name": "one"}, "mark": {"type": "text", "align": "center", "baseline": "middle", "fontSize": 8.5, "fontWeight": "bold", "color": "#111111"},
             "encoding": {"x": {"datum": 5.5, "type": "quantitative", "scale": {"domain": [1.72, 9.28], "nice": false, "zero": false}},
                          "y": {"datum": 0.595, "type": "quantitative", "scale": {"domain": [0.001, 0.623], "nice": false, "zero": false}}, "text": {"value": "Delta area"}}},
            {"data": {"name": "one"}, "mark": {"type": "text", "align": "left", "baseline": "alphabetic", "fontSize": 14, "color": "#111111"},
             "encoding": {"x": {"datum": 0.797, "type": "quantitative", "scale": {"domain": [1.72, 9.28], "nice": false, "zero": false}},
                          "y": {"datum": 0.5925, "type": "quantitative", "scale": {"domain": [0.001, 0.623], "nice": false, "zero": false}}, "text": {"value": "F"}}},
            {"data": {"name": "one"}, "mark": {"type": "rect", "filled": false, "stroke": "#444444", "strokeWidth": 1},
             "encoding": {"x": {"datum": 1.72, "type": "quantitative", "scale": {"domain": [1.72, 9.28], "nice": false, "zero": false}},
                          "x2": {"datum": 9.28},
                          "y": {"datum": 0.001, "type": "quantitative", "scale": {"domain": [0.001, 0.623], "nice": false, "zero": false}},
                          "y2": {"datum": 0.551}}}
          ]
        }
      ]
    },
    {
      "width": 537.3, "height": 117,
      "title": {"text": "cluster-consensus", "fontSize": 11.5, "fontWeight": "bold", "anchor": "middle", "dx": 10.35, "dy": 33.7},
      "data": {"name": "cc"},
      "mark": {"type": "bar"},
      "encoding": {
        "x": {"field": "id", "type": "nominal",
              "scale": {"type": "band", "domain": ["2-1", "2-2", "2-a", "2-b", "3-1", "3-2", "3-3", "3-a", "3-b", "4-1", "4-2", "4-3", "4-4", "4-a", "4-b", "5-1", "5-2", "5-3", "5-4", "5-5", "5-a", "5-b", "6-1", "6-2", "6-3", "6-4", "6-5", "6-6", "6-a", "6-b", "7-1", "7-2", "7-3", "7-4", "7-5", "7-6", "7-7", "7-a", "7-b", "8-1", "8-2", "8-3", "8-4", "8-5", "8-6", "8-7", "8-8", "8-a", "8-b", "9-1", "9-2", "9-3", "9-4", "9-5", "9-6", "9-7", "9-8", "9-9"], "paddingInner": 0.08, "paddingOuter": 0, "range": [42.3, 519.1]},
              "axis": {"title": null, "domain": false, "ticks": false, "labelAngle": 0, "labelFontSize": 8.5, "labelColor": "#555555", "labelPadding": 13, "labelOverlap": false,
                       "labelExpr": "(split(datum.value, '-')[1] % 2 == 1) ? split(datum.value, '-')[0] : ''"}},
        "y": {"field": "v", "type": "quantitative", "scale": {"domain": [0, 1], "nice": false, "zero": false},
              "axis": {"title": "G", "titleAngle": 0, "titleAlign": "left", "titleBaseline": "alphabetic", "titleX": -24.7, "titleY": -19.7, "titleFontSize": 16, "titleColor": "#111111",
                       "values": [0, 0.2, 0.4, 0.6, 0.8, 1], "format": ".1f", "domain": true, "domainColor": "#333333", "tickColor": "#333333", "tickSize": 6, "offset": -20.3, "labelFontSize": 9.5, "labelPadding": 1, "labelColor": "#444444", "labelOverlap": false}},
        "fill": {"field": "t", "type": "nominal", "scale": {"domain": ["t1", "t2", "t3", "t4", "t6", "t7", "t9", "t10"], "range": ["#A6CEE3", "#1F78B4", "#B2DF8A", "#33A02C", "#E31A1C", "#FDBF6F", "#CAB2D6", "#6A3D9A"]}, "legend": null}
      }
    }
  ]
}
